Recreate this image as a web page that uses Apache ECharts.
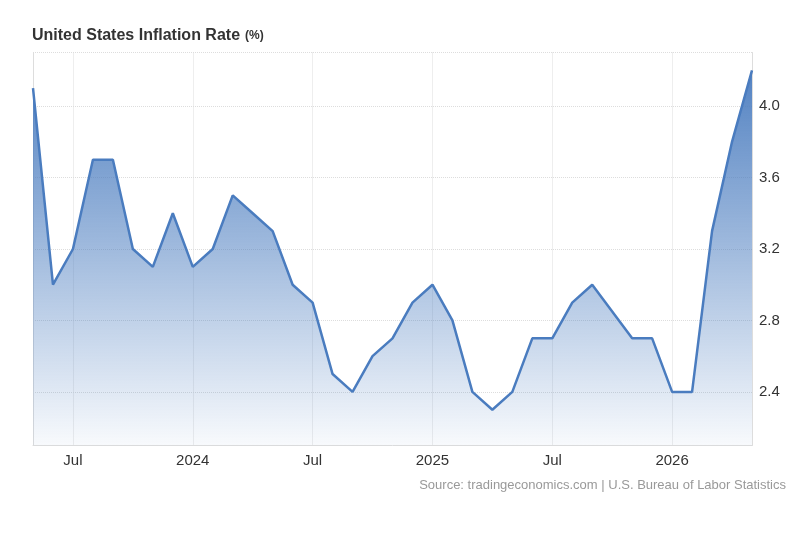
<!DOCTYPE html>
<html>
<head>
<meta charset="utf-8">
<script src="https://cdn.jsdelivr.net/npm/echarts@6/dist/echarts.min.js"></script>
<style>
  html, body { margin: 0; padding: 0; background: #fff; }
  #chart { width: 800px; height: 546px; }
</style>
</head>
<body>
<div id="chart"></div>
<script>
// months shown on the x axis (monthly, May 2023 - May 2026)
var months = [
  '2023-05', '2023-06', '2023-07', '2023-08', '2023-09', '2023-10', '2023-11', '2023-12',
  '2024-01', '2024-02', '2024-03', '2024-04', '2024-05', '2024-06', '2024-07', '2024-08',
  '2024-09', '2024-10', '2024-11', '2024-12',
  '2025-01', '2025-02', '2025-03', '2025-04', '2025-05', '2025-06', '2025-07', '2025-08',
  '2025-09', '2025-10', '2025-11', '2025-12',
  '2026-01', '2026-02', '2026-03', '2026-04', '2026-05'
];

// inflation rate, % (Oct 2025 has no value)
var inflation = [
  4.1, 3.0, 3.2, 3.7, 3.7, 3.2, 3.1, 3.4,
  3.1, 3.2, 3.5, 3.4, 3.3, 3.0, 2.9, 2.5,
  2.4, 2.6, 2.7, 2.9,
  3.0, 2.8, 2.4, 2.3, 2.4, 2.7, 2.7, 2.9,
  3.0, null, 2.7, 2.7,
  2.4, 2.4, 3.3, 3.8, 4.2
];

// y axis tick labels
var yTicks = [2.4, 2.8, 3.2, 3.6, 4.0];
var yMin = 2.1, yMax = 4.3;

var myChart = echarts.init(document.getElementById('chart'));

// only January and July get a label / grid line
function showMonth(i) {
  var m = months[i].slice(5);
  return m === '01' || m === '07';
}

var option = {
  animation: false,
  title: {
    text: '{a|United States Inflation Rate} {b|(%)}',
    left: 32,
    top: 27,
    padding: 0,
    textStyle: {
      rich: {
        a: { fontFamily: 'Arial, Liberation Sans', fontSize: 16, fontWeight: 'bold', color: '#333' },
        b: { fontFamily: 'Arial, Liberation Sans', fontSize: 12, fontWeight: 'bold', color: '#333' }
      }
    }
  },
  graphic: [{
    type: 'text',
    right: 14,
    top: 479,
    style: {
      text: 'Source: tradingeconomics.com | U.S. Bureau of Labor Statistics',
      fontFamily: 'Arial, Liberation Sans',
      fontSize: 13,
      fill: '#999'
    }
  }],
  grid: { left: 33, right: 48, top: 52.5, bottom: 100.5 },
  xAxis: {
    type: 'category',
    data: months,
    boundaryGap: false,
    axisLine: { lineStyle: { color: '#ddd' } },
    axisTick: { show: false },
    axisLabel: {
      interval: function (i) { return showMonth(i); },
      formatter: function (v) {
        return v.slice(5) === '01' ? v.slice(0, 4) : 'Jul';
      },
      fontFamily: 'Arial, Liberation Sans',
      fontSize: 15,
      color: '#333',
      margin: 8
    },
    splitLine: {
      show: true,
      interval: function (i) { return showMonth(i); },
      lineStyle: { color: '#ddd', type: 'dotted' }
    }
  },
  yAxis: [{
    type: 'value',
    position: 'right',
    min: yMin,
    max: yMax,
    axisLine: { show: true, lineStyle: { color: '#ddd' } },
    axisTick: { show: false, customValues: yTicks.concat([yMax]) },
    axisLabel: {
      customValues: yTicks,
      formatter: function (v) { return v.toFixed(1); },
      fontFamily: 'Arial, Liberation Sans',
      fontSize: 15,
      color: '#333',
      margin: 7
    },
    splitLine: { show: true, lineStyle: { color: '#ddd', type: 'dotted' } }
  }, {
    type: 'value',
    position: 'left',
    min: yMin,
    max: yMax,
    axisLine: { show: true, lineStyle: { color: '#ddd' } },
    axisTick: { show: false },
    axisLabel: { show: false },
    splitLine: { show: false }
  }],
  series: [{
    name: 'Inflation Rate',
    type: 'line',
    data: inflation,
    connectNulls: true,
    symbol: 'none',
    lineStyle: { color: '#4a7cbf', width: 2.5 },
    areaStyle: {
      opacity: 1,
      color: new echarts.graphic.LinearGradient(0, 0, 0, 1, [
        { offset: 0, color: 'rgba(74, 124, 191, 0.95)' },
        { offset: 0.45, color: 'rgba(74, 124, 191, 0.55)' },
        { offset: 1, color: 'rgba(74, 124, 191, 0.04)' }
      ])
    }
  }]
};

myChart.setOption(option);
</script>
</body>
</html>
